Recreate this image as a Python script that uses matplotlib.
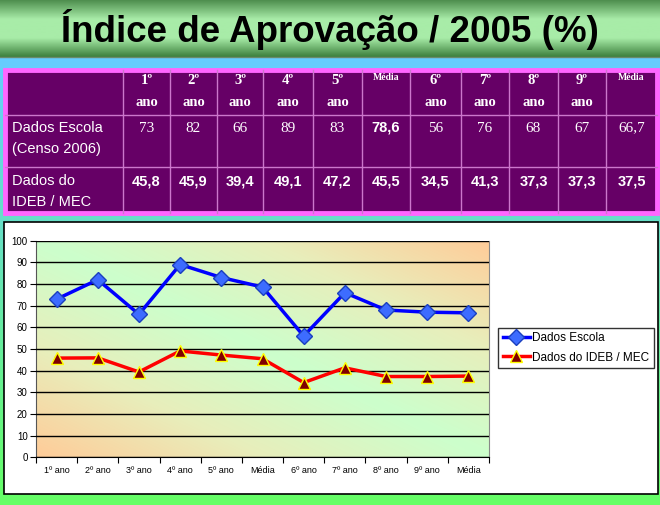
import numpy as np
import matplotlib
matplotlib.use('Agg')
import matplotlib.pyplot as plt
from matplotlib.colors import LinearSegmentedColormap
from matplotlib.patches import Rectangle

plt.rcParams['font.family'] = ['Liberation Sans', 'DejaVu Sans']

# dados
categorias = ['1º ano', '2º ano', '3º ano', '4º ano', '5º ano', 'Média',
              '6º ano', '7º ano', '8º ano', '9º ano', 'Média']
cab_linha1 = ['1º', '2º', '3º', '4º', '5º', 'Média', '6º', '7º', '8º', '9º', 'Média']
escola = [73, 82, 66, 89, 83, 78.6, 56, 76, 68, 67, 66.7]
ideb = [45.8, 45.9, 39.4, 49.1, 47.2, 45.5, 34.5, 41.3, 37.3, 37.3, 37.5]
nome_escola = 'Dados Escola'
nome_ideb = 'Dados do IDEB / MEC'
rotulo_escola = ['Dados Escola', '(Censo 2006)']
rotulo_ideb = ['Dados do', 'IDEB / MEC']
titulo = 'Índice de Aprovação / 2005 (%)'

W, H = 660, 505
fig = plt.figure(figsize=(W / 100, H / 100), dpi=100)

# fundo em pixels
bg = fig.add_axes([0, 0, 1, 1])
bg.set_xlim(0, W)
bg.set_ylim(H, 0)
bg.axis('off')

grad = LinearSegmentedColormap.from_list('g', ['#66CCFF', '#66FF66'])
bg.imshow(np.linspace(0, 1, 100).reshape(-1, 1), cmap=grad, aspect='auto',
          extent=(0, W, H, 57), zorder=0)
banda = LinearSegmentedColormap.from_list('b', ['#4f8f4f', '#a8eca8', '#a8eca8', '#3d803d'])
bg.imshow(np.linspace(0, 1, 100).reshape(-1, 1), cmap=banda, aspect='auto',
          extent=(0, W, 57, 0), zorder=0)
bg.plot([0, W], [57, 57], color='#6a8a6a', lw=1, zorder=1)

bg.text(330, 30, titulo, ha='center', va='center', fontsize=26.5, fontweight='bold',
        color='black', zorder=2)

# tabela
cols = [5, 123, 170, 217, 263, 313, 362, 410, 461, 509, 558, 606, 657]
rows = [70, 115, 167, 213]
bg.add_patch(Rectangle((cols[0], rows[0]), cols[-1] - cols[0], rows[-1] - rows[0],
                       facecolor='#660066', edgecolor='#FF66FF', lw=3.5, zorder=2))
for x in cols[1:-1]:
    bg.plot([x, x], [rows[0], rows[-1]], color='#cc77cc', lw=1, zorder=3)
for y in rows[1:-1]:
    bg.plot([cols[0], cols[-1]], [y, y], color='#cc77cc', lw=1, zorder=3)

for i, cab in enumerate(cab_linha1):
    xc = (cols[i + 1] + cols[i + 2]) / 2
    if cab == 'Média':
        bg.text(xc, 78, cab, ha='center', va='center', fontsize=7, fontweight='bold',
                family='Liberation Serif', color='white', zorder=4)
    else:
        bg.text(xc, 81, cab, ha='center', va='center', fontsize=10.5, fontweight='bold',
                family='Liberation Serif', color='white', zorder=4)
        bg.text(xc, 103, 'ano', ha='center', va='center', fontsize=10.5, fontweight='bold',
                family='Liberation Serif', color='white', zorder=4)

for j, txt in enumerate(rotulo_escola):
    bg.text(12, 128 + 21 * j, txt, ha='left', va='center', fontsize=10.5,
            color='white', zorder=4)
for j, txt in enumerate(rotulo_ideb):
    bg.text(12, 181 + 21 * j, txt, ha='left', va='center', fontsize=10.5,
            color='white', zorder=4)

for i, v in enumerate(escola):
    xc = (cols[i + 1] + cols[i + 2]) / 2
    s = f'{v:g}'.replace('.', ',')
    if i == 5:
        bg.text(xc, 128, s, ha='center', va='center', fontsize=10.5, fontweight='bold',
                color='white', zorder=4)
    else:
        bg.text(xc, 128, s, ha='center', va='center', fontsize=11,
                family='Liberation Serif', color='white', zorder=4)
for i, v in enumerate(ideb):
    xc = (cols[i + 1] + cols[i + 2]) / 2
    s = f'{v:g}'.replace('.', ',')
    bg.text(xc, 181, s, ha='center', va='center', fontsize=10.5, fontweight='bold',
            color='white', zorder=4)

# caixa do grafico
bg.add_patch(Rectangle((4, 222), 654, 272, facecolor='white', edgecolor='black',
                       lw=1.2, zorder=2))

# grafico
x0, x1, y0, y1 = 36, 489, 240.7, 457.3
ax = fig.add_axes([x0 / W, (H - y1) / H, (x1 - x0) / W, (y1 - y0) / H])
n = len(categorias)
pos = np.arange(n) + 0.5

gx, gy = np.meshgrid(np.linspace(0, 1, 200), np.linspace(1, 0, 200))
t = np.abs(gx + gy - 1)
fundo = LinearSegmentedColormap.from_list('f', ['#ccffcc', '#e8eebb', '#ffcc99'])
ax.imshow(t, cmap=fundo, aspect='auto', extent=(0, n, 0, 100), zorder=0)

ax.plot(pos, escola, color='#0000FF', lw=2.5, marker='D', markersize=8,
        markerfacecolor='#3d6cff', markeredgecolor='#1a3fbf', label=nome_escola, zorder=3)
ax.plot(pos, ideb, color='#FF0000', lw=2.5, marker='^', markersize=8.5,
        markerfacecolor='#800000', markeredgecolor='#FFFF00', label=nome_ideb, zorder=3)

ax.set_xlim(0, n)
ax.set_ylim(0, 100)
ax.set_yticks(range(0, 101, 10))
ax.yaxis.grid(True, color='black', lw=1)
ax.set_axisbelow(False)
for l in ax.get_ygridlines():
    l.set_zorder(1)
ax.set_xticks(np.arange(n + 1))
ax.set_xticklabels([])
ax.set_xticks(pos, minor=True)
ax.set_xticklabels(categorias, minor=True, fontsize=6.5)
ax.tick_params(axis='x', which='minor', length=0, pad=6)
ax.tick_params(axis='x', which='major', length=4, direction='out', color='black')
ax.tick_params(axis='y', length=4, direction='out', labelsize=7, pad=2)
ax.spines['top'].set_visible(False)
ax.spines['right'].set_color('#888888')
ax.spines['left'].set_color('#555555')
ax.spines['bottom'].set_color('black')

leg = fig.legend(loc='center left', bbox_to_anchor=(498 / W, 1 - 348 / H), fontsize=8.5,
                 frameon=True, fancybox=False, edgecolor='black', handlelength=2.3,
                 borderpad=0.4, labelspacing=0.6, handletextpad=0.2, borderaxespad=0)
leg.get_frame().set_linewidth(1)
leg.set_zorder(5)

fig.savefig('out.png', dpi=100)
